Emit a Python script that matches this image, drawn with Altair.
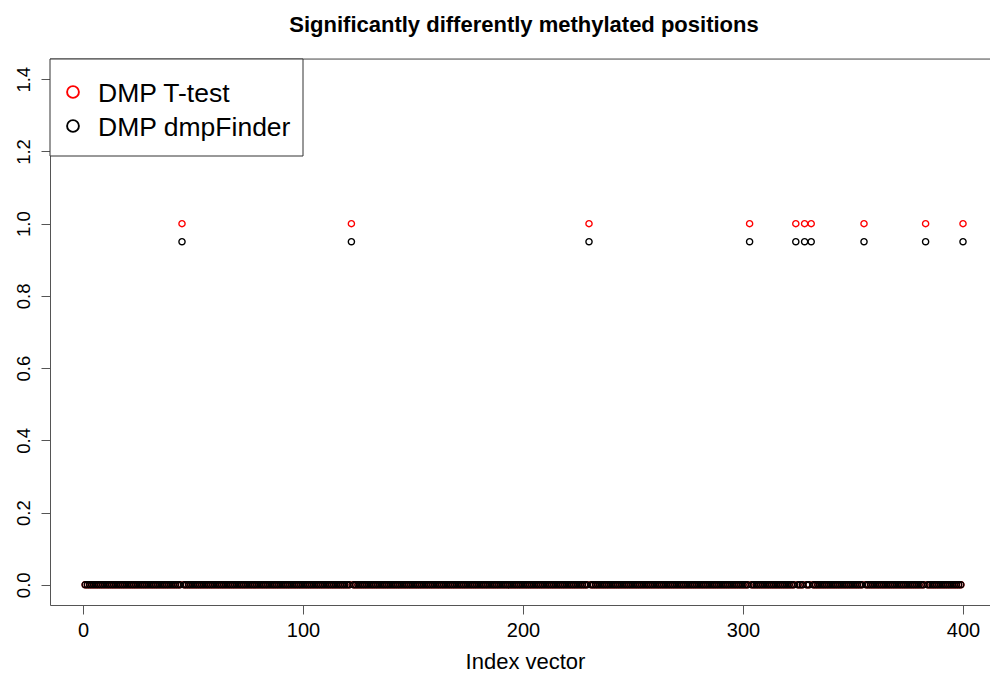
import altair as alt
import pandas as pd

# ---- data ----
n_positions = 400
sig_ttest_idx = [45, 122, 230, 303, 324, 328, 331, 355, 383, 400]
sig_dmp_idx = [45, 122, 230, 303, 324, 328, 331, 355, 383, 400]
ttest_hit_value = 1.0
dmp_hit_value = 0.95
x_ticks = [0, 100, 200, 300, 400]
y_ticks = [0.0, 0.2, 0.4, 0.6, 0.8, 1.0, 1.2, 1.4]
legend_labels = ["DMP T-test", "DMP dmpFinder"]
legend_colors = ["#FF0000", "#000000"]
title_text = "Significantly differently methylated positions"
x_title = "Index vector"

index = list(range(1, n_positions + 1))
ttest = [ttest_hit_value if i in sig_ttest_idx else 0.0 for i in index]
dmp = [dmp_hit_value if i in sig_dmp_idx else 0.0 for i in index]
df = pd.DataFrame({"idx": index, "ttest": ttest, "dmp": dmp})

FONT = "Liberation Sans"
W, H = 940, 546
x_scale = alt.Scale(domain=[-15, 412.27], nice=False, zero=False)
y_scale = alt.Scale(domain=[-0.056, 1.456], nice=False, zero=False)

x_axis = alt.Axis(values=x_ticks, title=x_title, grid=False, tickSize=9,
                  labelFontSize=20, titleFontSize=22, labelFont=FONT, titleFont=FONT,
                  labelColor="black", titleColor="black", domainColor="#555",
                  tickColor="#555", labelPadding=6, titlePadding=11, titleX=475,
                  titleFontWeight="normal", format="d")
y_axis = alt.Axis(values=y_ticks, title=None, grid=False, tickSize=9,
                  labelFontSize=18.5, labelFont=FONT, labelColor="black",
                  labelAngle=270, labelAlign="center", labelBaseline="bottom",
                  domainColor="#555", tickColor="#555", labelPadding=8, format=".1f")

base = alt.Chart(df)
red_pts = base.mark_point(shape="circle", filled=False, color=legend_colors[0],
                          size=38, strokeWidth=1.4, opacity=1, clip=True).encode(
    x=alt.X("idx:Q", scale=x_scale, axis=x_axis),
    y=alt.Y("ttest:Q", scale=y_scale, axis=y_axis),
)
black_pts = base.mark_point(shape="circle", filled=False, color=legend_colors[1],
                            size=38, strokeWidth=1.4, opacity=1, clip=True).encode(
    x=alt.X("idx:Q", scale=x_scale),
    y=alt.Y("dmp:Q", scale=y_scale),
)

one = pd.DataFrame({"a": [0]})
top_line = alt.Chart(one).mark_rule(color="#555", strokeWidth=1).encode(
    x=alt.value(0), x2=alt.value(W), y=alt.value(0))
legend_box = alt.Chart(one).mark_rect(fill="white", stroke="#333", strokeWidth=1).encode(
    x=alt.value(0), x2=alt.value(253), y=alt.value(0), y2=alt.value(97))

leg_layers = []
leg_y = [33, 67]
for lab, col, yy in zip(legend_labels, legend_colors, leg_y):
    leg_layers.append(alt.Chart(one).mark_point(shape="circle", filled=False, color=col,
                                                size=140, strokeWidth=1.9, opacity=1).encode(
        x=alt.value(23), y=alt.value(yy)))
    leg_layers.append(alt.Chart(one).mark_text(text=lab, font=FONT, fontSize=26.5, color="black",
                                               align="left", baseline="alphabetic").encode(
        x=alt.value(48), y=alt.value(yy + 9.5)))

chart = alt.layer(red_pts, black_pts, top_line, legend_box, *leg_layers).properties(
    width=W, height=H,
    title=alt.TitleParams(title_text, font=FONT, fontSize=22, fontWeight="bold",
                          anchor="middle", dx=4, offset=22, color="black"),
    autosize=alt.AutoSizeParams(type="none"),
    padding={"left": 50, "top": 59, "right": 0, "bottom": 72},
).configure_view(stroke=None).configure(background="white")

chart.save("out.html", embed_options={"renderer": "svg", "actions": False})
